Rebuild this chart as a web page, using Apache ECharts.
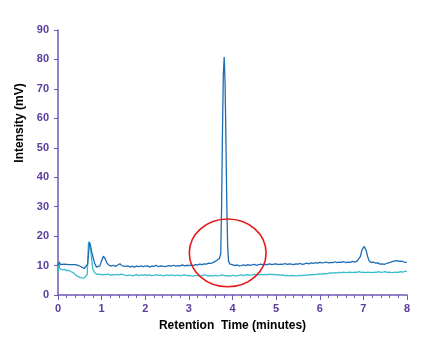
<!DOCTYPE html>
<html>
<head>
<meta charset="utf-8">
<script src="https://cdn.jsdelivr.net/npm/echarts@6/dist/echarts.min.js"></script>
<style>
  html, body { margin: 0; padding: 0; background: #fff; }
  #chart { width: 442px; height: 342px; }
</style>
</head>
<body>
<div id="chart"></div>
<script>
// Chromatogram traces: [retention time (min), intensity (mV)]
const sampleTrace = [
  [0.00,10.0],[0.03,11.2],[0.06,10.3],[0.10,10.2],[0.13,10.5],[0.16,10.2],[0.20,10.4],
  [0.23,10.1],[0.26,10.3],[0.30,10.0],[0.33,10.3],[0.36,10.1],[0.40,10.3],[0.43,9.9],
  [0.46,10.1],[0.50,9.8],[0.53,9.6],[0.56,9.3],[0.60,9.0],[0.64,9.4],[0.68,10.5],
  [0.70,14.0],[0.72,18.0],[0.74,17.2],[0.77,14.8],[0.80,13.0],[0.84,10.8],[0.88,9.5],
  [0.92,9.2],[0.96,9.9],[1.00,11.6],[1.04,13.2],[1.08,12.4],[1.12,10.9],[1.17,10.1],
  [1.22,9.8],[1.27,10.1],[1.32,9.7],[1.37,10.2],[1.42,10.6],[1.47,9.9],[1.50,10.1],
  [1.55,9.7],[1.60,9.9],[1.65,9.5],[1.70,9.8],[1.75,9.5],[1.80,9.8],[1.85,9.6],
  [1.90,9.9],[1.95,9.6],[2.00,9.8],[2.05,9.9],[2.10,9.5],[2.15,9.8],[2.20,9.7],
  [2.25,10.1],[2.30,9.6],[2.35,9.9],[2.40,9.8],[2.45,9.6],[2.50,9.8],[2.55,10.0],
  [2.60,9.8],[2.65,10.1],[2.70,9.8],[2.75,10.0],[2.80,9.9],[2.85,10.2],[2.90,9.9],
  [2.95,10.1],[3.00,10.0],[3.05,10.2],[3.10,10.0],[3.15,10.3],[3.20,10.2],[3.25,10.5],
  [3.30,10.3],[3.35,10.6],[3.40,10.5],[3.45,10.8],[3.50,10.7],[3.55,11.0],[3.60,11.4],
  [3.65,11.9],[3.70,12.4],[3.73,14.0],[3.75,30.0],[3.77,55.0],[3.79,75.0],[3.81,80.8],
  [3.83,72.0],[3.85,52.0],[3.87,30.0],[3.89,16.0],[3.91,11.5],[3.94,10.5],[4.00,10.3],
  [4.05,10.0],[4.10,10.2],[4.15,9.9],[4.20,10.0],[4.25,10.2],[4.30,10.0],[4.35,10.3],
  [4.40,10.1],[4.45,10.2],[4.50,10.4],[4.55,10.1],[4.60,10.3],[4.65,10.5],[4.70,10.2],
  [4.75,10.4],[4.80,10.3],[4.85,10.6],[4.90,10.3],[4.95,10.5],[5.00,10.6],[5.05,10.3],
  [5.10,10.5],[5.15,10.4],[5.20,10.7],[5.25,10.4],[5.30,10.6],[5.35,10.5],[5.40,10.3],
  [5.45,10.6],[5.50,10.5],[5.55,10.7],[5.60,10.4],[5.65,10.6],[5.70,10.8],[5.75,10.6],
  [5.80,10.9],[5.85,10.7],[5.90,11.0],[5.95,10.8],[6.00,11.1],[6.05,10.9],[6.10,11.0],
  [6.15,11.2],[6.20,10.9],[6.25,11.1],[6.30,11.0],[6.35,11.3],[6.40,11.0],[6.45,11.2],
  [6.50,11.1],[6.55,11.3],[6.60,11.0],[6.65,11.2],[6.70,11.1],[6.75,11.4],[6.80,11.2],
  [6.85,11.4],[6.89,11.6],[6.93,13.0],[6.97,15.4],[7.02,16.5],[7.06,15.3],[7.10,13.0],
  [7.13,11.6],[7.18,11.0],[7.23,11.2],[7.28,10.8],[7.33,10.9],[7.38,10.5],[7.43,10.6],
  [7.48,10.4],[7.53,10.7],[7.58,10.9],[7.63,11.2],[7.68,11.4],[7.73,11.6],[7.78,11.7],
  [7.83,11.4],[7.88,11.5],[7.93,11.2],[7.97,11.3],[8.00,11.1]
];

const blankTrace = [
  [0.00,7.5],[0.02,11.3],[0.04,9.0],[0.07,8.6],[0.10,8.5],[0.15,8.7],[0.20,8.3],
  [0.25,8.4],[0.30,7.9],[0.35,7.6],[0.40,6.9],[0.45,6.3],[0.50,6.0],[0.55,5.8],
  [0.60,5.7],[0.64,5.9],[0.67,7.0],[0.69,15.0],[0.70,18.1],[0.72,17.5],[0.75,15.3],
  [0.78,11.0],[0.80,8.6],[0.85,7.4],[0.90,7.0],[0.95,7.1],[1.00,6.8],[1.05,7.0],
  [1.10,6.9],[1.15,7.1],[1.20,6.7],[1.25,6.9],[1.30,6.8],[1.35,7.0],[1.40,6.8],
  [1.45,7.1],[1.50,6.9],[1.55,6.7],[1.60,6.6],[1.65,6.8],[1.70,6.5],[1.75,6.7],
  [1.80,6.9],[1.85,6.6],[1.90,6.8],[1.95,6.7],[2.00,6.9],[2.05,6.6],[2.10,6.8],
  [2.15,6.6],[2.20,6.7],[2.25,6.9],[2.30,6.7],[2.35,6.8],[2.40,6.5],[2.45,6.7],
  [2.50,6.8],[2.55,6.6],[2.60,6.8],[2.65,6.7],[2.70,6.6],[2.75,6.8],[2.80,6.5],
  [2.85,6.7],[2.90,6.8],[2.95,6.6],[3.00,6.7],[3.05,6.5],[3.10,6.4],[3.15,6.6],
  [3.20,6.7],[3.25,6.5],[3.30,6.6],[3.35,6.8],[3.40,6.7],[3.45,6.5],[3.50,6.6],
  [3.55,6.4],[3.60,6.7],[3.65,6.5],[3.70,6.6],[3.75,6.8],[3.80,6.7],[3.85,6.5],
  [3.90,6.6],[3.95,6.4],[4.00,6.7],[4.05,6.6],[4.10,6.5],[4.15,6.7],[4.20,6.8],
  [4.25,6.6],[4.30,6.8],[4.35,6.9],[4.40,6.7],[4.45,6.8],[4.50,7.0],[4.55,6.8],
  [4.60,6.9],[4.65,7.0],[4.70,6.8],[4.75,7.0],[4.80,6.9],[4.85,7.1],[4.90,6.9],
  [4.95,7.0],[5.00,6.8],[5.05,6.9],[5.10,6.7],[5.15,6.8],[5.20,6.6],[5.25,6.7],
  [5.30,6.5],[5.35,6.7],[5.40,6.6],[5.45,6.5],[5.50,6.6],[5.55,6.7],[5.60,6.6],
  [5.65,6.8],[5.70,6.7],[5.75,6.9],[5.80,6.8],[5.85,7.0],[5.90,6.9],[5.95,7.1],
  [6.00,7.2],[6.05,7.1],[6.10,7.3],[6.15,7.2],[6.20,7.4],[6.25,7.5],[6.30,7.4],
  [6.35,7.6],[6.40,7.5],[6.45,7.7],[6.50,7.6],[6.55,7.8],[6.60,7.6],[6.65,7.7],
  [6.70,7.8],[6.75,7.6],[6.80,7.8],[6.85,7.7],[6.90,7.9],[6.95,7.7],[7.00,7.8],
  [7.05,7.6],[7.10,7.8],[7.15,7.7],[7.20,7.6],[7.25,7.8],[7.30,7.7],[7.35,7.9],
  [7.40,7.7],[7.45,7.8],[7.50,7.9],[7.55,7.7],[7.60,7.8],[7.65,7.6],[7.70,7.7],
  [7.75,7.8],[7.80,7.7],[7.85,7.9],[7.90,7.8],[7.95,8.0],[8.00,8.0]
];

// Highlight ellipse around the main peak base, in data units
const highlight = { center: [3.89, 14.3], rx: 0.88, ry: 11.5 };

const axisPurple = '#7058b8';
const labelPurple = '#5a3d9c';
const fontFamily = '"Liberation Sans", Arial, sans-serif';

const chart = echarts.init(document.getElementById('chart'), null, { renderer: 'canvas' });

chart.setOption({
  animation: false,
  backgroundColor: '#ffffff',
  grid: { left: 58, right: 35, top: 30, bottom: 47, containLabel: false },
  xAxis: {
    type: 'value', min: 0, max: 8, interval: 1,
    name: 'Retention  Time (minutes)', nameLocation: 'middle', nameGap: 25,
    nameTextStyle: { color: '#000', fontWeight: 'bold', fontSize: 12, fontFamily },
    axisLine: { show: true, lineStyle: { color: axisPurple, width: 1.5 } },
    axisTick: { show: true, inside: false, length: 5, lineStyle: { color: axisPurple, width: 1 } },
    minorTick: { show: true, splitNumber: 5, length: 3, lineStyle: { color: axisPurple, width: 1 } },
    axisLabel: { color: labelPurple, fontWeight: 'bold', fontSize: 11, fontFamily, margin: 8 },
    splitLine: { show: false }
  },
  yAxis: {
    type: 'value', min: 0, max: 90, interval: 10,
    axisLine: { show: true, lineStyle: { color: axisPurple, width: 1.5 } },
    axisTick: { show: true, inside: false, length: 4, lineStyle: { color: axisPurple, width: 1 } },
    axisLabel: { color: labelPurple, fontWeight: 'bold', fontSize: 11, fontFamily, margin: 9 },
    splitLine: { show: false }
  },
  series: [
    {
      name: 'Blank', type: 'line', data: blankTrace, showSymbol: false,
      lineStyle: { color: '#38bccd', width: 1.3 }, z: 2
    },
    {
      name: 'Sample', type: 'line', data: sampleTrace, showSymbol: false,
      lineStyle: { color: '#1d6cb4', width: 1.3 }, z: 3
    }
  ]
});

// Place the highlight ellipse and the rotated y-axis title
const c = chart.convertToPixel({ gridIndex: 0 }, highlight.center);
const e = chart.convertToPixel({ gridIndex: 0 }, [highlight.center[0] + highlight.rx, highlight.center[1] + highlight.ry]);
chart.setOption({
  graphic: [
    {
      type: 'ellipse', z: 10,
      shape: { cx: c[0], cy: c[1], rx: Math.abs(e[0] - c[0]), ry: Math.abs(c[1] - e[1]) },
      style: { fill: 'none', stroke: '#e8191c', lineWidth: 1.6 }
    },
    {
      type: 'text', x: 20, y: 123, rotation: Math.PI / 2, z: 10,
      style: {
        text: 'Intensity (mV)', fill: '#000', fontWeight: 'bold', fontSize: 12, fontFamily,
        align: 'center', verticalAlign: 'middle'
      }
    }
  ]
});
</script>
</body>
</html>
